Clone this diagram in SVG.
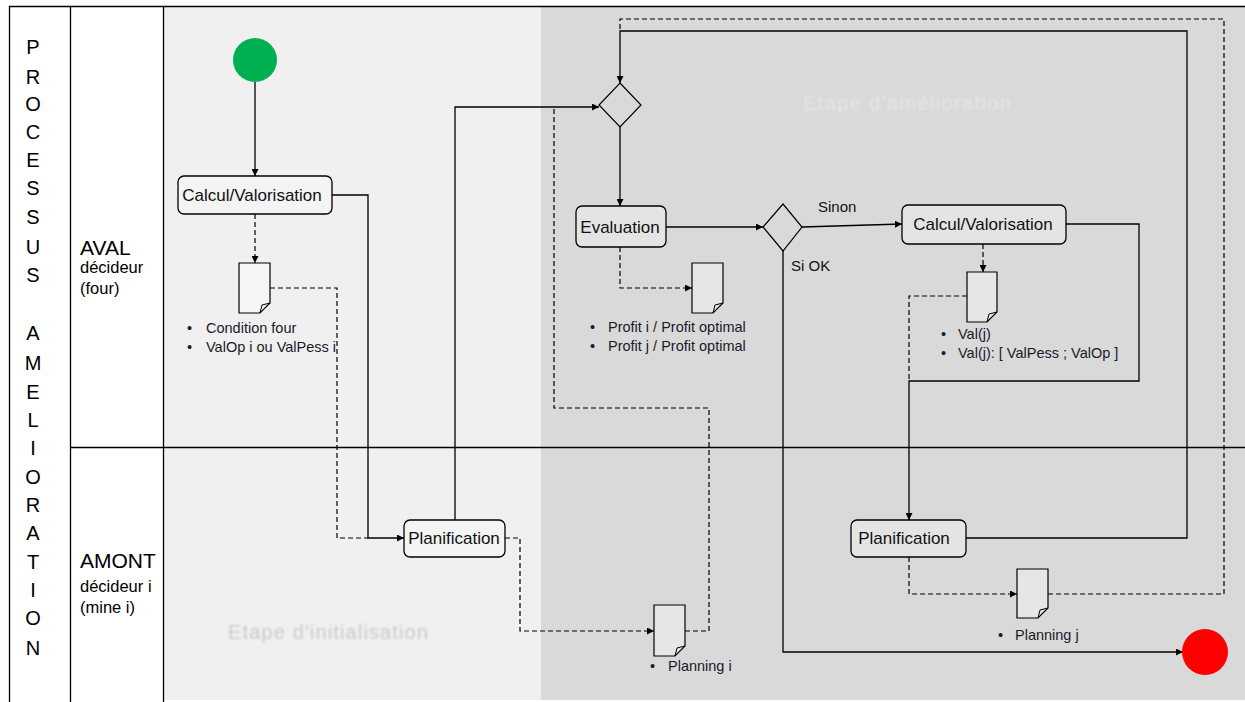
<svg xmlns="http://www.w3.org/2000/svg" width="1245" height="702" viewBox="0 0 1245 702">
<defs>
<marker id="arr" viewBox="0 0 10 10" refX="10" refY="5" markerWidth="7" markerHeight="7" orient="auto" markerUnits="userSpaceOnUse">
<path d="M0,0 L10,5 L0,10 Z" fill="#000"/>
</marker>
<filter id="blur" x="-5%" y="-50%" width="110%" height="200%"><feGaussianBlur stdDeviation="0.8"/></filter>
</defs>
<style>
text{font-family:"Liberation Sans",Arial,sans-serif;}
.frame{stroke:#000;stroke-width:1.3;fill:none;}
.lane{font-size:20px;fill:#000;text-anchor:middle;}
.big{font-size:21px;fill:#000;}
.sub{font-size:16.5px;fill:#000;}
.wm{font-size:20px;}
.box{fill:#ffffff;fill-opacity:0.3;stroke:#000;stroke-width:1.3;}
.lbl{font-size:17px;fill:#111;text-anchor:middle;}
.doc{fill:#ffffff;fill-opacity:0.35;stroke:#000;stroke-width:1.2;}
.fold{fill:none;stroke:#000;stroke-width:1;}
.dia{fill:none;stroke:#000;stroke-width:1.2;}
.bul{font-size:14.5px;fill:#1a1a2a;}
.sol{fill:none;stroke:#000;stroke-width:1.3;}
.dsh{fill:none;stroke:#000;stroke-width:1.2;stroke-dasharray:5,3;}
.cond{font-size:15px;fill:#111;}
</style>
<rect x="0" y="0" width="1245" height="702" fill="#ffffff"/>
<rect x="163" y="7" width="378" height="693" fill="#f0f0f0"/>
<rect x="541" y="7" width="704" height="693" fill="#d9d9d9"/>
<g id="frame">
<line class="frame" x1="9" y1="6.5" x2="1245" y2="6.5"/>
<line class="frame" x1="9.5" y1="6" x2="9.5" y2="702"/>
<line class="frame" x1="70.5" y1="6" x2="70.5" y2="702"/>
<line class="frame" x1="163.5" y1="6" x2="163.5" y2="702"/>
<line class="frame" x1="70" y1="447.5" x2="1245" y2="447.5"/>
</g>
<g id="lane-title">
<text class="lane" x="33" y="54">P</text>
<text class="lane" x="33" y="84">R</text>
<text class="lane" x="33" y="111">O</text>
<text class="lane" x="33" y="139">C</text>
<text class="lane" x="33" y="167">E</text>
<text class="lane" x="33" y="195">S</text>
<text class="lane" x="33" y="224">S</text>
<text class="lane" x="33" y="254">U</text>
<text class="lane" x="33" y="282">S</text>
<text class="lane" x="33" y="340">A</text>
<text class="lane" x="33" y="370">M</text>
<text class="lane" x="33" y="399">E</text>
<text class="lane" x="33" y="427">L</text>
<text class="lane" x="33" y="455">I</text>
<text class="lane" x="33" y="484">O</text>
<text class="lane" x="33" y="512">R</text>
<text class="lane" x="33" y="540">A</text>
<text class="lane" x="33" y="569">T</text>
<text class="lane" x="33" y="597">I</text>
<text class="lane" x="33" y="625">O</text>
<text class="lane" x="33" y="655">N</text>
</g>
<g id="lane-aval">
<text class="big" x="80" y="255">AVAL</text>
<text class="sub" x="80" y="273">décideur</text>
<text class="sub" x="80" y="294">(four)</text>
</g>
<g id="lane-amont">
<text class="big" x="80" y="568">AMONT</text>
<text class="sub" x="80" y="592">décideur i</text>
<text class="sub" x="80" y="613">(mine i)</text>
</g>
<g id="watermarks" filter="url(#blur)">
<text class="wm" x="228" y="639" fill="#c9c9c9" textLength="200">Etape d'initialisation</text>
<text class="wm" x="803" y="110" fill="#e6e6e6" textLength="208">Etape d'amélioration</text>
</g>
<g id="connectors">
<path class="sol" d="M255,82 V176" marker-end="url(#arr)"/>
<path class="sol" d="M332,195 H368 V538 H404" marker-end="url(#arr)"/>
<path class="dsh" d="M255,214 V263" marker-end="url(#arr)"/>
<path class="dsh" d="M270,288 H337 V538 H368"/>
<path class="sol" d="M455,520 V107 H599" marker-end="url(#arr)"/>
<path class="dsh" d="M505,538 H520 V631 H654" marker-end="url(#arr)"/>
<path class="dsh" d="M685,631 H709 V408 H554 V107"/>
<path class="sol" d="M620,127 V206" marker-end="url(#arr)"/>
<path class="sol" d="M666,227 H763" marker-end="url(#arr)"/>
<path class="dsh" d="M620,247 V288 H692" marker-end="url(#arr)"/>
<path class="sol" d="M802,227 L902,224" marker-end="url(#arr)"/>
<path class="sol" d="M783,251 V652 H1183" marker-end="url(#arr)"/>
<path class="dsh" d="M983,244 V272" marker-end="url(#arr)"/>
<path class="dsh" d="M967,296 H909 V381"/>
<path class="sol" d="M1066,224 H1139 V381 H909 V520" marker-end="url(#arr)"/>
<path class="sol" d="M966,538 H1187 V31 H620 V83" marker-end="url(#arr)"/>
<path class="dsh" d="M909,557 V594 H1017" marker-end="url(#arr)"/>
<path class="dsh" d="M1048,594 H1224 V19 H620 V31"/>
<text class="cond" x="818" y="212">Sinon</text>
<text class="cond" x="791" y="271">Si OK</text>
</g>
<g id="start">
<circle cx="255" cy="60" r="22" fill="#00b050"/>
</g>
<g id="end">
<circle cx="1205" cy="652" r="23" fill="#ff0000"/>
</g>
<g id="calcul1">
<rect class="box" x="178" y="176" width="154" height="38" rx="6"/>
<text class="lbl" x="252" y="201">Calcul/Valorisation</text>
</g>
<g id="doc-condition">
<path class="doc" d="M239,263 H270 V303 L260,313 H239 Z"/>
<path class="fold" d="M270,303 L262,305 L260,313"/>
<text class="bul" x="187" y="333">•</text>
<text class="bul" x="206" y="333">Condition four</text>
<text class="bul" x="187" y="352">•</text>
<text class="bul" x="206" y="352">ValOp i ou ValPess i</text>
</g>
<g id="planif1">
<rect class="box" x="404" y="520" width="101" height="37" rx="6"/>
<text class="lbl" x="454" y="544">Planification</text>
</g>
<g id="doc-planning-i">
<path class="doc" d="M654,605 H685 V646 L675,656 H654 Z"/>
<path class="fold" d="M685,646 L677,648 L675,656"/>
<text class="bul" x="650" y="671">•</text>
<text class="bul" x="668" y="671">Planning i</text>
</g>
<g id="decision1">
<path class="dia" d="M620,83 L641,105 L620,127 L599,105 Z"/>
</g>
<g id="evaluation">
<rect class="box" x="576" y="206" width="90" height="41" rx="6"/>
<text class="lbl" x="620" y="233">Evaluation</text>
</g>
<g id="doc-profit">
<path class="doc" d="M692,263 H723 V303 L713,313 H692 Z"/>
<path class="fold" d="M723,303 L715,305 L713,313"/>
<text class="bul" x="590" y="332">•</text>
<text class="bul" x="608" y="332">Profit i / Profit optimal</text>
<text class="bul" x="590" y="351">•</text>
<text class="bul" x="608" y="351">Profit j / Profit optimal</text>
</g>
<g id="decision2">
<path class="dia" d="M783,204 L802,227 L783,251 L763,227 Z"/>
</g>
<g id="calcul2">
<rect class="box" x="902" y="205" width="164" height="39" rx="6"/>
<text class="lbl" x="983" y="230">Calcul/Valorisation</text>
</g>
<g id="doc-val">
<path class="doc" d="M967,272 H997 V312 L987,322 H967 Z"/>
<path class="fold" d="M997,312 L989,314 L987,322"/>
<text class="bul" x="941" y="339">•</text>
<text class="bul" x="958" y="339">Val(j)</text>
<text class="bul" x="941" y="358">•</text>
<text class="bul" x="958" y="358">Val(j): [ ValPess ; ValOp ]</text>
</g>
<g id="planif2">
<rect class="box" x="851" y="520" width="115" height="37" rx="6"/>
<text class="lbl" x="904" y="544">Planification</text>
</g>
<g id="doc-planning-j">
<path class="doc" d="M1017,569 H1048 V608 L1038,618 H1017 Z"/>
<path class="fold" d="M1048,608 L1040,610 L1038,618"/>
<text class="bul" x="998" y="640">•</text>
<text class="bul" x="1015" y="640">Planning j</text>
</g>
</svg>
